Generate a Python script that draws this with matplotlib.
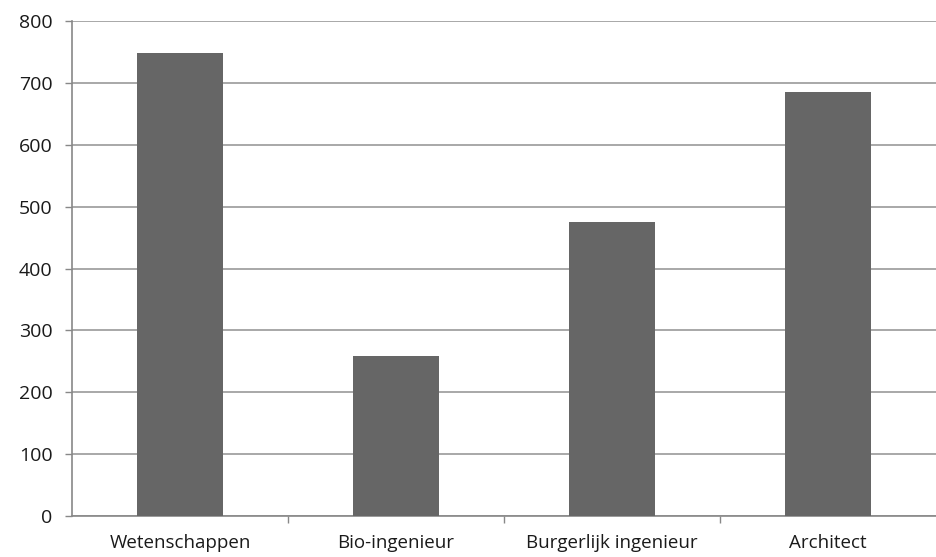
import numpy as np
import matplotlib.pyplot as plt

categories = ['Wetenschappen', 'Bio-ingenieur', 'Burgerlijk ingenieur', 'Architect']
values = [748, 258, 475, 685]
yticks = [0, 100, 200, 300, 400, 500, 600, 700, 800]

plt.rcParams['font.family'] = ['Open Sans', 'DejaVu Sans']

fig = plt.figure(figsize=(9.36, 5.57), dpi=100)
ax = fig.add_axes([72 / 936, 41 / 557, 864 / 936, 495 / 557])

x_pos = np.arange(len(categories))
ax.bar(x_pos, values, width=0.4, color='#666666', zorder=3)

ax.set_xlim(-0.5, len(categories) - 0.5)
ax.set_ylim(0, 800)
ax.set_yticks(yticks)
ax.yaxis.grid(True, color='#999999', linewidth=1.2, zorder=0)

# category labels centred, tick marks between categories
ax.set_xticks(x_pos)
ax.set_xticklabels(categories, fontsize=13.5, color='#1a1a1a')
ax.tick_params(axis='x', length=0, pad=13)
ax.set_xticks(np.arange(0.5, len(categories) - 0.5, 1), minor=True)
ax.tick_params(axis='x', which='minor', length=5, width=1, color='#888888', direction='out')
ax.tick_params(axis='y', length=5, width=1, color='#888888', labelsize=14,
               labelcolor='#1a1a1a', pad=9)

for side in ['top', 'right']:
    ax.spines[side].set_visible(False)
for side in ['left', 'bottom']:
    ax.spines[side].set_color('#888888')
    ax.spines[side].set_linewidth(1.2)

plt.savefig('out.png', dpi=100)
